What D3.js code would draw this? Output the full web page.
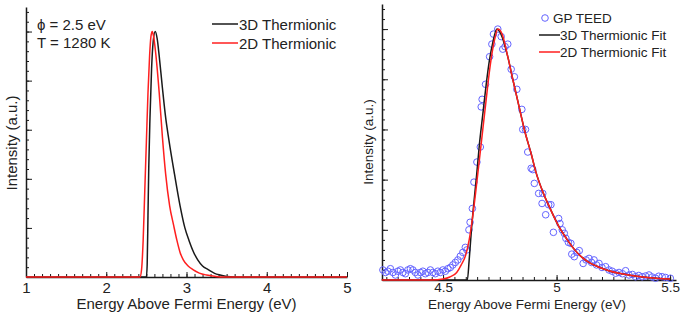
<!DOCTYPE html>
<html>
<head>
<meta charset="utf-8">
<script src="https://cdn.jsdelivr.net/npm/d3@7"></script>
<style>
  body { margin: 0; background: #fff; }
  text { font-family: "Liberation Sans", Arial, sans-serif; fill: #222; }
</style>
</head>
<body>
<div id="chart"></div>
<script>
// Left panel: simulated distributions, phi = 2.5 eV, T = 1280 K
const sim3D = [
  [1.0, 0], [2.50, 0], [2.51, 0.05], [2.52, 0.25], [2.53, 0.45], [2.545, 0.65],
  [2.565, 0.85], [2.585, 0.96], [2.61, 1.0], [2.635, 0.97], [2.66, 0.90],
  [2.70, 0.77], [2.74, 0.65], [2.78, 0.56], [2.85, 0.42], [2.92, 0.29],
  [2.98, 0.20], [3.03, 0.15], [3.09, 0.10], [3.14, 0.07], [3.20, 0.045],
  [3.27, 0.03], [3.35, 0.015], [3.42, 0.008], [3.50, 0.002], [3.6, 0], [5.0, 0]
];
const sim2D = [
  [1.0, 0], [2.42, 0], [2.44, 0.03], [2.46, 0.15], [2.48, 0.35], [2.50, 0.55],
  [2.52, 0.75], [2.54, 0.90], [2.557, 0.98], [2.573, 1.0], [2.59, 0.98],
  [2.62, 0.90], [2.66, 0.75], [2.70, 0.57], [2.74, 0.42], [2.79, 0.29],
  [2.84, 0.21], [2.88, 0.15], [2.92, 0.10], [2.96, 0.07], [3.02, 0.045],
  [3.08, 0.03], [3.16, 0.016], [3.25, 0.008], [3.35, 0.003], [3.45, 0], [5.0, 0]
];

// Right panel: measured GP TEED and the two fits
const fit3D = [
  [4.23, 0], [4.607, 0], [4.615, 0.08], [4.625, 0.2], [4.637, 0.32], [4.648, 0.42],
  [4.66, 0.54], [4.675, 0.66], [4.69, 0.78], [4.705, 0.88], [4.72, 0.95],
  [4.737, 1.0], [4.755, 0.98], [4.785, 0.89], [4.807, 0.80], [4.835, 0.69],
  [4.858, 0.60], [4.889, 0.50], [4.909, 0.43], [4.94, 0.35], [4.969, 0.29],
  [5.012, 0.21], [5.043, 0.166], [5.08, 0.12], [5.115, 0.088], [5.15, 0.066],
  [5.19, 0.05], [5.23, 0.037], [5.275, 0.027], [5.33, 0.018], [5.40, 0.01],
  [5.45, 0.006], [5.50, 0.004]
];
const fit2D = [
  [4.23, 0], [4.45, 0], [4.50, 0.004], [4.53, 0.012], [4.56, 0.03], [4.58, 0.06],
  [4.60, 0.10], [4.615, 0.16], [4.63, 0.25], [4.645, 0.36], [4.66, 0.48],
  [4.675, 0.60], [4.69, 0.72], [4.70, 0.80], [4.715, 0.90], [4.73, 0.97],
  [4.741, 1.0], [4.76, 0.98], [4.785, 0.89], [4.807, 0.80], [4.835, 0.69],
  [4.858, 0.60], [4.889, 0.50], [4.909, 0.43], [4.94, 0.35], [4.969, 0.29],
  [5.012, 0.21], [5.043, 0.166], [5.08, 0.12], [5.115, 0.088], [5.15, 0.066],
  [5.19, 0.05], [5.23, 0.037], [5.275, 0.027], [5.33, 0.018], [5.40, 0.01],
  [5.45, 0.006], [5.50, 0.004]
];
const teed = [
  [4.235, 0.04], [4.246, 0.03], [4.257, 0.035], [4.268, 0.045], [4.279, 0.03],
  [4.29, 0.02], [4.301, 0.035], [4.312, 0.04], [4.323, 0.03], [4.334, 0.025],
  [4.345, 0.04], [4.356, 0.045], [4.367, 0.04], [4.378, 0.03], [4.389, 0.02],
  [4.40, 0.03], [4.411, 0.035], [4.422, 0.025], [4.433, 0.03], [4.444, 0.04],
  [4.455, 0.03], [4.466, 0.025], [4.477, 0.035], [4.488, 0.03], [4.499, 0.04],
  [4.51, 0.035], [4.521, 0.045], [4.532, 0.05], [4.543, 0.06], [4.554, 0.07],
  [4.565, 0.08], [4.576, 0.095], [4.587, 0.11], [4.598, 0.13], [4.605, 0.12],
  [4.614, 0.20], [4.619, 0.23], [4.629, 0.285], [4.636, 0.39], [4.649, 0.47],
  [4.664, 0.53], [4.668, 0.69], [4.672, 0.72], [4.687, 0.78], [4.705, 0.89],
  [4.715, 0.94], [4.722, 0.98], [4.741, 1.0], [4.756, 0.97], [4.763, 0.92],
  [4.773, 0.93], [4.785, 0.94], [4.80, 0.84], [4.814, 0.81], [4.825, 0.76],
  [4.847, 0.68], [4.851, 0.60], [4.863, 0.60], [4.873, 0.51], [4.888, 0.445],
  [4.895, 0.44], [4.902, 0.385], [4.921, 0.345], [4.936, 0.305], [4.939, 0.345],
  [4.952, 0.26], [4.965, 0.30], [4.975, 0.30], [4.986, 0.19], [5.009, 0.245],
  [5.015, 0.225], [5.025, 0.20], [5.034, 0.186], [5.041, 0.166], [5.052, 0.15],
  [5.063, 0.146], [5.067, 0.103], [5.078, 0.093], [5.089, 0.11], [5.10, 0.117],
  [5.117, 0.066], [5.13, 0.08], [5.143, 0.086], [5.154, 0.07], [5.165, 0.08],
  [5.176, 0.06], [5.187, 0.066], [5.20, 0.05], [5.216, 0.053], [5.231, 0.04],
  [5.245, 0.035], [5.26, 0.027], [5.275, 0.03], [5.29, 0.025], [5.304, 0.037],
  [5.319, 0.02], [5.334, 0.022], [5.348, 0.013], [5.362, 0.018], [5.377, 0.013],
  [5.392, 0.016], [5.407, 0.02], [5.421, 0.012], [5.436, 0.007], [5.45, 0.015],
  [5.465, 0.013], [5.48, 0.01], [5.501, 0.007]
];

const leftMajorX = [1, 2, 3, 4, 5];
const rightMajorX = [4.5, 5, 5.5];
const majorY = [0, 0.2, 0.4, 0.6, 0.8, 1.0];

const svgWidth = 686;
const svgHeight = 318;
const black = "#1a1a1a";
const red = "#ff1f1f";
const blue = "#6464ff";

const svg = d3.select("#chart")
  .append("svg")
  .attr("width", svgWidth)
  .attr("height", svgHeight);

svg.append("defs").append("clipPath")
  .attr("id", "leftClip")
  .append("rect")
  .attr("x", 0).attr("y", 0)
  .attr("width", 352).attr("height", svgHeight);

// Draws axes with inward ticks, major and minor
function drawAxes(g, x, y, minorX, minorY, majorX, fontSize, labelPad, xLabelY, yLabelX, yLabelY) {
  const fmt = d3.format("");
  g.append("g")
    .attr("transform", `translate(0,${y(0)})`)
    .call(d3.axisBottom(x).tickValues(minorX).tickSize(-3).tickSizeOuter(0).tickFormat(""))
    .call(a => a.select(".domain").remove());
  g.append("g")
    .attr("transform", `translate(0,${y(0)})`)
    .call(d3.axisBottom(x).tickValues(majorX).tickSize(-5).tickSizeOuter(0)
      .tickPadding(labelPad).tickFormat(fmt))
    .call(a => a.selectAll("text").style("font-size", fontSize + "px")
      .style("font-family", "Liberation Sans, Arial, sans-serif").attr("fill", "#222"));
  g.append("g")
    .attr("transform", `translate(${x.range()[0]},0)`)
    .call(d3.axisLeft(y).tickValues(minorY).tickSize(-3).tickSizeOuter(0).tickFormat(""))
    .call(a => a.select(".domain").remove());
  g.append("g")
    .attr("transform", `translate(${x.range()[0]},0)`)
    .call(d3.axisLeft(y).tickValues(majorY).tickSize(-6).tickSizeOuter(0).tickFormat(""));
  g.selectAll(".domain").attr("stroke", black).attr("stroke-width", 1.5);
  g.selectAll(".tick line").attr("stroke", black).attr("stroke-width", 1);

  g.append("text")
    .attr("x", (x.range()[0] + x.range()[1]) / 2 + (fontSize > 14 ? 0 : -2))
    .attr("y", xLabelY)
    .attr("text-anchor", "middle")
    .style("font-size", fontSize + "px")
    .text("Energy Above Fermi Energy (eV)");
  g.append("text")
    .attr("transform", `translate(${yLabelX},${yLabelY}) rotate(-90)`)
    .attr("text-anchor", "middle")
    .style("font-size", fontSize + "px")
    .text("Intensity (a.u.)");
}

function range(start, stop, step) {
  return d3.range(Math.round((stop - start) / step) + 1).map(i => +(start + i * step).toFixed(3));
}

// ---- Left panel ----
const left = svg.append("g").attr("clip-path", "url(#leftClip)");
const xL = d3.scaleLinear().domain([1, 5]).range([26, 347]);
const yL = d3.scaleLinear().domain([0, 1.1]).range([277, 7]);

drawAxes(left, xL, yL, range(1, 5, 0.1), range(0, 1.08, 0.04), leftMajorX, 15, 5, 309, 17, 143);

const lineL = d3.line().x(d => xL(d[0])).y(d => yL(d[1])).curve(d3.curveMonotoneX);
left.append("path").datum(sim3D).attr("d", lineL)
  .attr("fill", "none").attr("stroke", black).attr("stroke-width", 1.5);
left.append("path").datum(sim2D).attr("d", lineL)
  .attr("fill", "none").attr("stroke", red).attr("stroke-width", 1.5);

left.append("text").attr("x", 37).attr("y", 30).style("font-size", "15px").text("ϕ = 2.5 eV");
left.append("text").attr("x", 37).attr("y", 48).style("font-size", "15px").text("T = 1280 K");

const legendL = [["3D Thermionic", black], ["2D Thermionic", red]];
legendL.forEach((d, i) => {
  const yy = 24 + i * 19;
  left.append("line").attr("x1", 212).attr("x2", 238).attr("y1", yy).attr("y2", yy)
    .attr("stroke", d[1]).attr("stroke-width", 1.5);
  left.append("text").attr("x", 239).attr("y", yy + 5.5).style("font-size", "15px").text(d[0]);
});

// ---- Right panel ----
const right = svg.append("g");
const xR = d3.scaleLinear().domain([4.231, 5.526]).range([382, 676]);
const yR = d3.scaleLinear().domain([0, 1.1]).range([280, 4]);

drawAxes(right, xR, yR, range(4.25, 5.5, 0.05), range(0, 1.08, 0.04), rightMajorX, 13.5, 2, 309, 373, 142);

right.selectAll("circle.teed")
  .data(teed)
  .enter().append("circle")
  .attr("class", "teed")
  .attr("cx", d => xR(d[0]))
  .attr("cy", d => yR(d[1]))
  .attr("r", 3.3)
  .attr("fill", "none")
  .attr("stroke", blue)
  .attr("stroke-width", 1);

const lineR = d3.line().x(d => xR(d[0])).y(d => yR(d[1])).curve(d3.curveMonotoneX);
right.append("path").datum(fit3D).attr("d", lineR)
  .attr("fill", "none").attr("stroke", black).attr("stroke-width", 1.5);
right.append("path").datum(fit2D).attr("d", lineR)
  .attr("fill", "none").attr("stroke", red).attr("stroke-width", 1.5);

right.append("circle").attr("cx", 545).attr("cy", 18).attr("r", 3.3)
  .attr("fill", "none").attr("stroke", blue).attr("stroke-width", 1);
right.append("text").attr("x", 553).attr("y", 23).style("font-size", "13.5px").text("GP TEED");
const legendR = [["3D Thermionic Fit", black], ["2D Thermionic Fit", red]];
legendR.forEach((d, i) => {
  const yy = 35 + i * 17;
  right.append("line").attr("x1", 539).attr("x2", 560).attr("y1", yy).attr("y2", yy)
    .attr("stroke", d[1]).attr("stroke-width", 1.5);
  right.append("text").attr("x", 560).attr("y", yy + 5).style("font-size", "13.5px").text(d[0]);
});
</script>
</body>
</html>
